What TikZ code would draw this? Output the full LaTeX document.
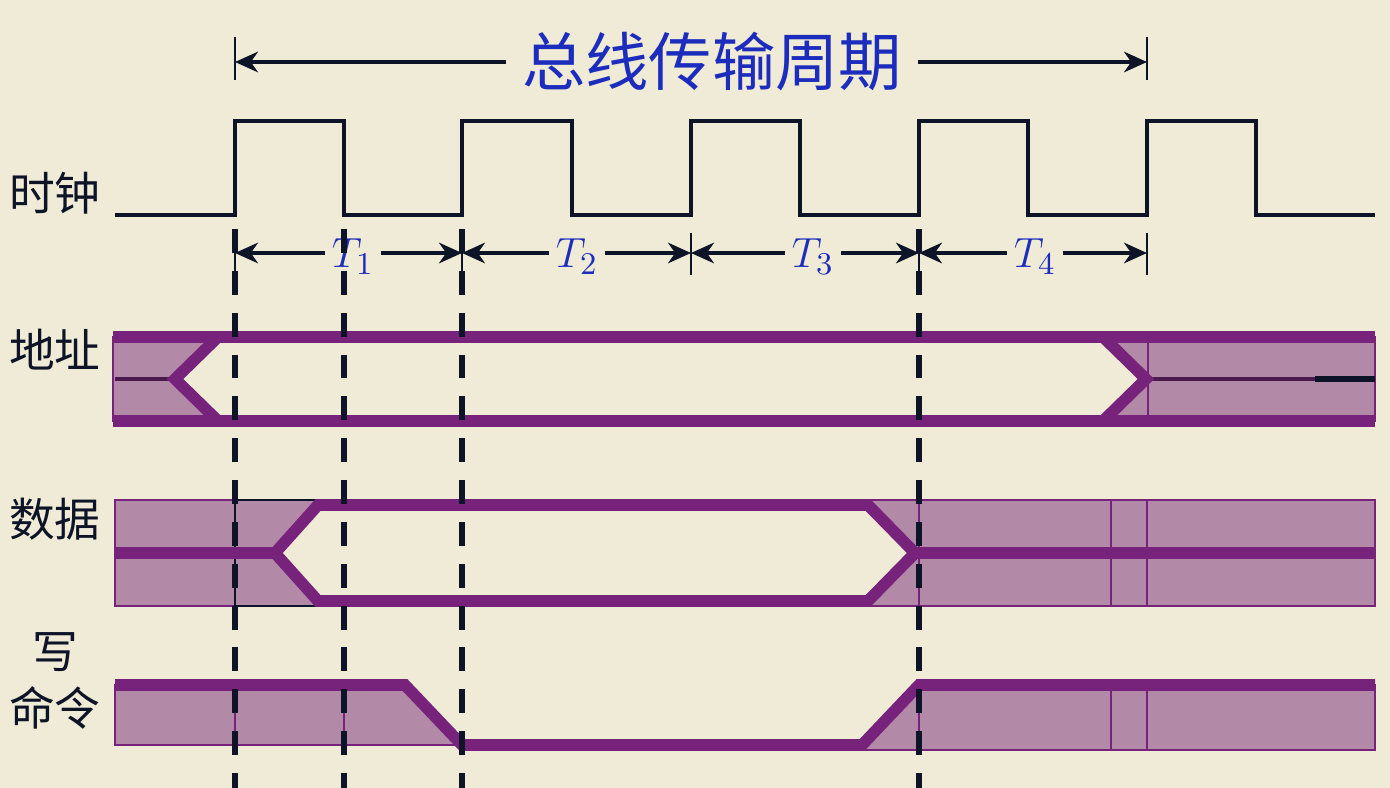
\documentclass[tikz,border=0pt]{standalone}
\usepackage{fontspec}
\newfontfamily\cjk{Noto Sans CJK SC}
\usetikzlibrary{arrows.meta}
\definecolor{bg}{RGB}{240,235,214}
\definecolor{clk}{RGB}{13,20,40}
\definecolor{bus}{RGB}{119,35,123}
\definecolor{busfill}{RGB}{179,137,168}
\definecolor{busdark}{RGB}{74,26,78}
\definecolor{ttl}{RGB}{28,45,190}
\begin{document}
\begin{tikzpicture}[x=0.01cm,y=-0.01cm,
  clock/.style={draw=clk,line width=1.3pt,line join=miter},
  busline/.style={draw=bus,line width=3.3pt,line join=miter},
  busfillst/.style={fill=busfill,draw=bus,line width=0.45pt},
  thinbus/.style={draw=bus,line width=0.45pt},
  guide/.style={draw=clk,line width=1.7pt,dash pattern=on 6.8pt off 5.1pt},
  tickline/.style={draw=clk,line width=0.6pt},
  span/.style={draw=clk,line width=1.2pt,arrows={Stealth[length=6.5pt,width=5.8pt,inset=2pt]-Stealth[length=6.5pt,width=5.8pt,inset=2pt]}},
  lbl/.style={font=\cjk\fontsize{13}{13}\selectfont,text=clk,inner sep=0pt},
  tlabel/.style={text=ttl,fill=bg,font=\fontsize{12.5}{12.5}\selectfont,inner xsep=2pt,inner ysep=1pt,anchor=base}
]
\useasboundingbox[fill=bg] (0,0) rectangle (1390,788);

% ---------- title arrow ----------
\coordinate (a0) at (235,62);
\coordinate (a1) at (1147,62);
\draw[tickline] (235,37) -- (235,80);
\draw[tickline] (1147,37) -- (1147,80);
\draw[span] (a0) -- (a1);
\node[fill=bg,text=ttl,font=\cjk\fontsize{18}{18}\selectfont,inner xsep=4.5pt,inner ysep=2pt] (title) at (712,62) {总线传输周期};

% ---------- clock ----------
\draw[clock] (115,215) -- (235,215) -- (235,121) -- (344,121) -- (344,215) -- (462,215) -- (462,121) -- (572,121) -- (572,215) -- (691,215) -- (691,121) -- (800,121) -- (800,215) -- (919,215) -- (919,121) -- (1028,121) -- (1028,215) -- (1147,215) -- (1147,121) -- (1256,121) -- (1256,215) -- (1375,215);

% ---------- T spans ----------
\foreach \x in {235,462,691,919,1147} {\draw[tickline] (\x,233) -- (\x,275);}
\coordinate (k0) at (235,253);
\coordinate (k1) at (462,253);
\coordinate (k2) at (691,253);
\coordinate (k3) at (919,253);
\coordinate (k4) at (1147,253);
\draw[span] (k0) -- (k1);
\draw[span] (k1) -- (k2);
\draw[span] (k2) -- (k3);
\draw[span] (k3) -- (k4);
\node[tlabel] (T1) at (353,268) {$T_1$};
\node[tlabel] (T2) at (577,268) {$T_2$};
\node[tlabel] (T3) at (813,268) {$T_3$};
\node[tlabel] (T4) at (1035,268) {$T_4$};

% ---------- labels ----------
\node[lbl] (lclk) at (55,193) {时钟};
\node[lbl] (laddr) at (55,350) {地址};
\node[lbl] (ldata) at (55,519) {数据};
\node[lbl] (lw1) at (55,652) {写};
\node[lbl] (lw2) at (55,708) {命令};

% ---------- address bus ----------
\path[busfillst] (113,337) -- (218,337) -- (175,379) -- (218,421) -- (113,421) -- cycle;
\path[busfillst] (1103,337) -- (1146,379) -- (1103,421) -- (1375,421) -- (1375,337) -- cycle;
\draw[thinbus] (1148,337) -- (1148,421);
\draw[busdark,line width=1.1pt] (115,379) -- (175,379);
\draw[busdark,line width=1.1pt] (1146,379) -- (1375,379);
\draw[clk,line width=1.5pt] (1315,379) -- (1375,379);
\draw[busline] (113,337) -- (1375,337);
\draw[busline] (113,421) -- (1375,421);
\draw[busline] (218,337) -- (175,379) -- (218,421);
\draw[busline] (1103,337) -- (1146,379) -- (1103,421);

% ---------- data bus ----------
\path[busfillst] (115,500) rectangle (235,606);
\path[fill=busfill,draw=clk,line width=0.45pt] (235,500) -- (318,500) -- (275,553) -- (318,606) -- (235,606) -- cycle;
\path[busfillst] (868,500) -- (1375,500) -- (1375,606) -- (868,606) -- (915,553) -- cycle;
\foreach \x in {919,1111,1147} {\draw[thinbus] (\x,500) -- (\x,606);}
\draw[busline] (115,553) -- (275,553);
\draw[busline] (915,553) -- (1375,553);
\draw[busline] (275,553) -- (318,505) -- (868,505) -- (915,553) -- (868,601) -- (318,601) -- cycle;

% ---------- write command ----------
\path[busfillst] (115,685) -- (405,685) -- (462,745) -- (115,745) -- cycle;
\foreach \x in {235,344} {\draw[thinbus] (\x,685) -- (\x,745);}
\path[busfillst] (862,749) -- (919,685) -- (1375,685) -- (1375,750) -- (862,750) -- cycle;
\foreach \x in {919,1111,1147} {\draw[thinbus] (\x,685) -- (\x,750);}
\draw[busline] (115,685) -- (405,685) -- (462,745) -- (862,745) -- (919,685) -- (1375,685);

% ---------- dashed guides ----------
\foreach \x in {235,344,462,919} {\draw[guide] (\x,229) -- (\x,788);}
\end{tikzpicture}
\end{document}
